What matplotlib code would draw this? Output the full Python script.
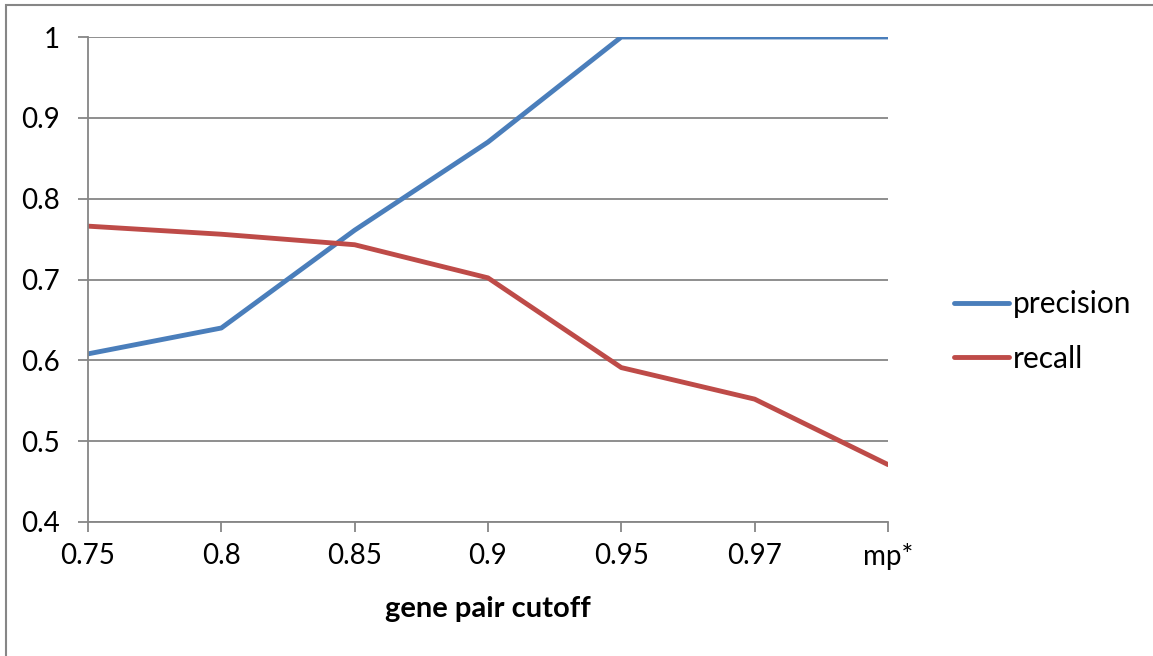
import matplotlib.pyplot as plt
from matplotlib.patches import Rectangle

cutoffs = ["0.75", "0.8", "0.85", "0.9", "0.95", "0.97", "mp*"]
precision = [0.608, 0.640, 0.761, 0.870, 1.0, 1.0, 1.0]
recall = [0.766, 0.756, 0.743, 0.702, 0.591, 0.552, 0.471]

plt.rcParams["font.family"] = ["Lato", "DejaVu Sans"]

fig = plt.figure(figsize=(11.53, 6.56), dpi=100)
ax = fig.add_axes([88 / 1153, 1 - 522 / 656, 800 / 1153, 485 / 656])

# chart border, only left and top edges visible
fig.patches.append(Rectangle((6 / 1153, -0.1), 1.2, 1 - 5 / 656 + 0.1,
                             transform=fig.transFigure, fill=False,
                             edgecolor="#868686", linewidth=1.5))

x = range(len(cutoffs))
ax.plot(x, precision, color="#4a7ebb", linewidth=3.5, label="precision",
        solid_capstyle="round", solid_joinstyle="round")
ax.plot(x, recall, color="#be4b48", linewidth=3.5, label="recall",
        solid_capstyle="round", solid_joinstyle="round")

ax.set_xlim(0, len(cutoffs) - 1)
ax.set_ylim(0.4, 1.0)
ax.set_xticks(list(x))
ax.set_xticklabels(cutoffs)
ax.set_yticks([0.4, 0.5, 0.6, 0.7, 0.8, 0.9, 1.0])
ax.set_yticklabels(["0.4", "0.5", "0.6", "0.7", "0.8", "0.9", "1"])
ax.yaxis.grid(True, color="#868686", linewidth=1.3)
ax.set_axisbelow(True)

for side in ["top", "right"]:
    ax.spines[side].set_visible(False)
for side in ["left", "bottom"]:
    ax.spines[side].set_color("#868686")
    ax.spines[side].set_linewidth(1.3)
ax.tick_params(axis="both", colors="#868686", labelcolor="black",
               labelsize=20, length=7, width=1.3, direction="out")
ax.tick_params(axis="x", pad=8)
ax.tick_params(axis="y", pad=13)

ax.set_xlabel("gene pair cutoff", fontsize=21, fontweight="bold", labelpad=19)

ax.legend(loc="center left", bbox_to_anchor=((954 - 88) / 800, 0.393),
          frameon=False, fontsize=21.5, handlelength=1.84, handletextpad=0.13,
          labelspacing=0.9, borderpad=0, borderaxespad=0)

plt.savefig("out.png", dpi=100)
